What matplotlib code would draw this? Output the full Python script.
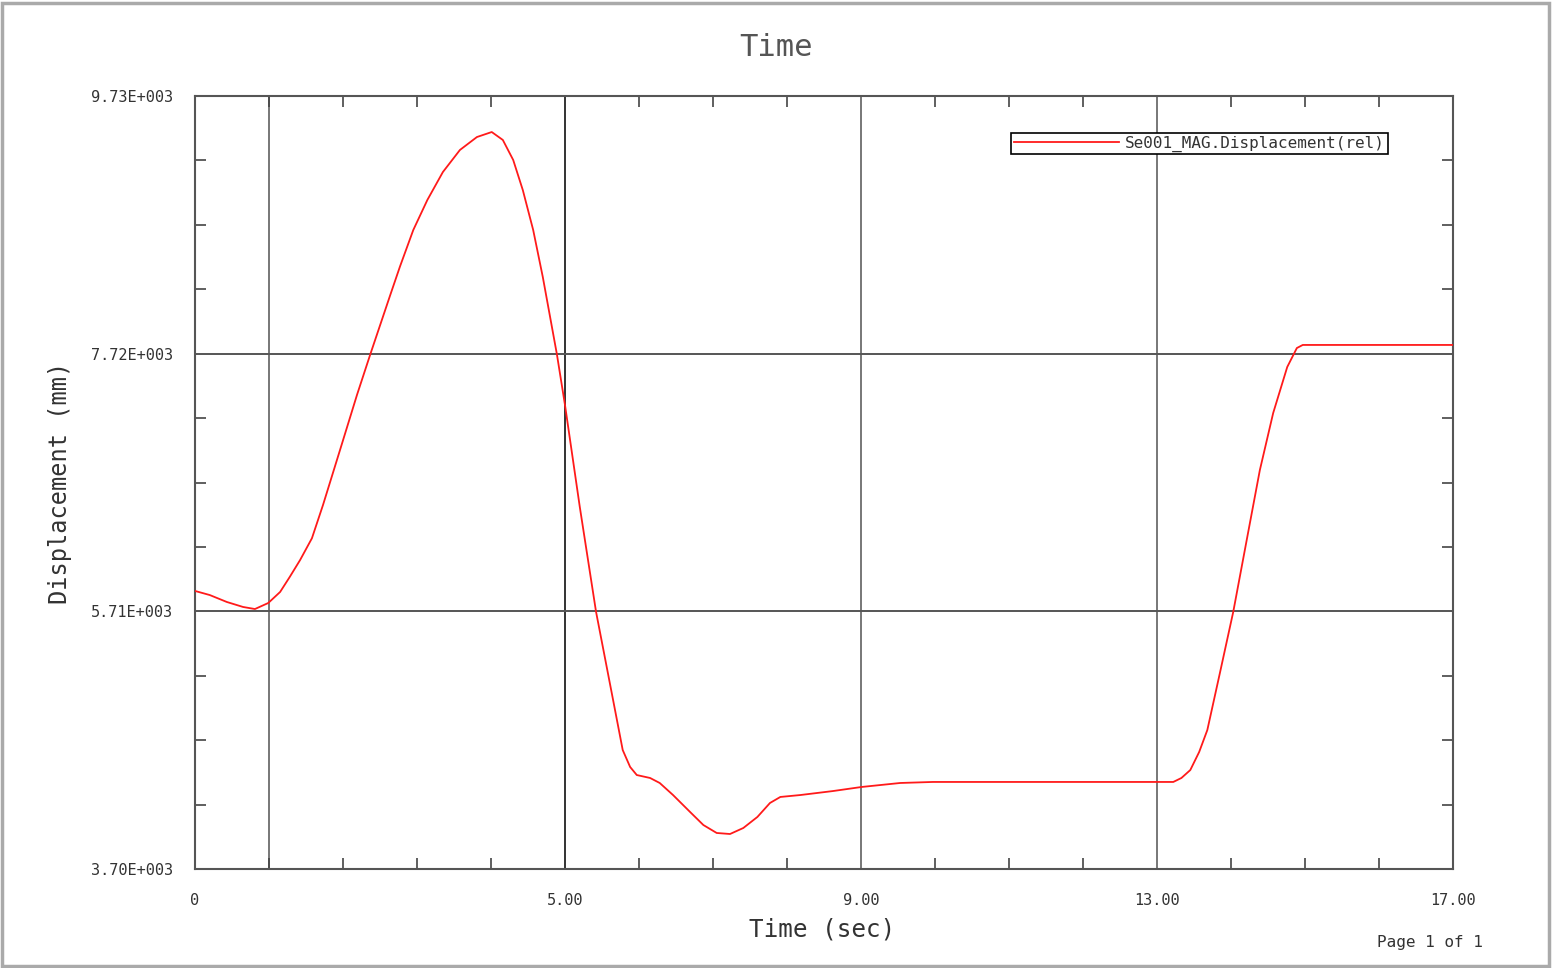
import matplotlib.pyplot as plt
from matplotlib.patches import Rectangle

# data
time_s = [0.0, 0.20, 0.43, 0.65, 0.81, 0.99, 1.15, 1.28, 1.42, 1.58, 1.73,
          1.96, 2.19, 2.37, 2.64, 2.77, 2.95, 3.14, 3.35, 3.58, 3.81, 4.01,
          4.16, 4.30, 4.43, 4.57, 4.70, 4.89, 5.00, 5.20, 5.42, 5.65, 5.78,
          5.88, 5.97, 6.15, 6.28, 6.46, 6.69, 6.87, 7.05, 7.23, 7.41, 7.60,
          7.77, 7.91, 8.18, 8.62, 9.01, 9.53, 9.97, 13.22, 13.33, 13.45,
          13.57, 13.68, 13.85, 14.03, 14.22, 14.39, 14.57, 14.76, 14.89,
          14.97, 17.0]
displacement = [5869, 5837, 5783, 5744, 5728, 5775, 5861, 5978, 6110, 6280, 6540,
                6969, 7400, 7717, 8180, 8400, 8685, 8919, 9137, 9309, 9410, 9449,
                9387, 9231, 8996, 8685, 8318, 7717, 7319, 6524, 5705, 5018, 4628,
                4496, 4433, 4410, 4371, 4277, 4145, 4043, 3981, 3973, 4020, 4106,
                4215, 4262, 4277, 4308, 4340, 4371, 4379, 4379, 4410, 4472,
                4613, 4784, 5229, 5705, 6290, 6812, 7257, 7616, 7764,
                7788, 7788]

x_ticks = [0, 5, 9, 13, 17]
x_labels = ['0', '5.00', '9.00', '13.00', '17.00']
y_ticks = [3700, 5710, 7720, 9730]
y_labels = ['3.70E+003', '5.71E+003', '7.72E+003', '9.73E+003']
x_grid = [1, 5, 9, 13]
y_grid = [5710, 7720]

W, H = 1552, 968
fig = plt.figure(figsize=(W / 100, H / 100), dpi=100)
ax = fig.add_axes([195 / W, 1 - 869 / H, (1453 - 195) / W, (869 - 96) / H])

txt = '#333333'
mono = 'DejaVu Sans Mono'

for gx in x_grid:
    ax.axvline(gx, color='#333333' if gx == 5 else '#777777', lw=1.4, zorder=1)
for gy in y_grid:
    ax.axhline(gy, color='#555555', lw=1.4, zorder=1)

ax.plot(time_s, displacement, color='#ff1a1a', lw=1.3, zorder=3,
        label='Se001_MAG.Displacement(rel)')

ax.set_xlim(0, 17)
ax.set_ylim(3700, 9730)
ax.set_xticks(x_ticks)
ax.set_xticklabels(x_labels, family=mono, fontsize=11, color=txt)
ax.set_yticks(y_ticks)
ax.set_yticklabels(y_labels, family=mono, fontsize=11, color=txt)
ax.set_xticks(range(0, 18), minor=True)
ax.set_yticks([3700 + 502.5 * i for i in range(13)], minor=True)
ax.tick_params(which='both', direction='in', top=True, right=True,
               color='#444444', width=1.2)
ax.tick_params(which='major', length=0)
ax.tick_params(axis='x', which='major', pad=17.5)
ax.tick_params(axis='y', which='major', pad=16)
ax.tick_params(which='minor', length=8)

for sp in ax.spines.values():
    sp.set_color('#555555')
    sp.set_linewidth(1.5)

ax.set_xlabel('Time (sec)', family=mono, fontsize=17.5, color=txt)
ax.set_ylabel('Displacement (mm)', family=mono, fontsize=17, color=txt)
ax.xaxis.set_label_coords((822 - 195) / 1258, (869 - 929) / 773)
ax.xaxis.label.set_va('center')
ax.yaxis.set_label_coords((60 - 195) / 1258, 0.5)
ax.yaxis.label.set_va('center')

leg = ax.legend(loc='upper right', bbox_to_anchor=(0.948, 0.952), fancybox=False,
                edgecolor='black', framealpha=1, borderpad=0.15, handlelength=6.6,
                handletextpad=0.4, borderaxespad=0,
                prop={'family': mono, 'size': 11.5})
leg.get_frame().set_linewidth(1.2)
for t in leg.get_texts():
    t.set_color(txt)

fig.text(0.5, 1 - 48 / H, 'Time', family=mono, fontsize=22, color='#555555',
         ha='center', va='center')
fig.text(1483 / W, 1 - 943 / H, 'Page 1 of 1', family=mono, fontsize=11.5,
         color=txt, ha='right', va='center')

fig.patches.append(Rectangle((2 / W, 2 / H), 1 - 5 / W, 1 - 5 / H,
                             transform=fig.transFigure, fill=False,
                             edgecolor='#aaaaaa', lw=2.5))

fig.savefig('out.png', dpi=100)
